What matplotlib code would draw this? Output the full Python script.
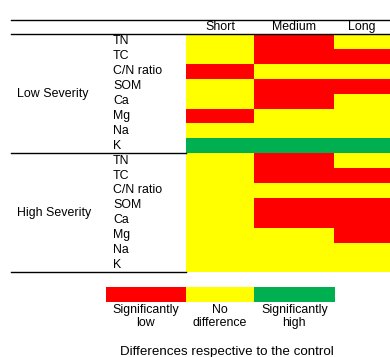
import numpy as np
import matplotlib
matplotlib.use("Agg")
import matplotlib.pyplot as plt
from matplotlib.colors import ListedColormap, BoundaryNorm

plt.rcParams["font.family"] = ["Liberation Sans", "DejaVu Sans"]

# -1 = significantly low, 0 = no difference, 1 = significantly high
PERIODS = ["Short", "Medium", "Long"]
VARIABLES = ["TN", "TC", "C/N ratio", "SOM", "Ca", "Mg", "Na", "K"]
GROUPS = ["Low Severity", "High Severity"]
LOW = [[0, -1, 0],
       [0, -1, -1],
       [-1, 0, 0],
       [0, -1, -1],
       [0, -1, 0],
       [-1, 0, 0],
       [0, 0, 0],
       [1, 1, 1]]
HIGH = [[0, -1, 0],
        [0, -1, -1],
        [0, 0, 0],
        [0, -1, -1],
        [0, -1, -1],
        [0, 0, -1],
        [0, 0, 0],
        [0, 0, 0]]
LEGEND_LABELS = ["Significantly\nlow", "No\ndifference", "Significantly\nhigh"]
LEGEND_VALUES = [-1, 0, 1]
FOOTER = "Differences respective to the control"

COLORS = ["#FF0000", "#FFFF00", "#00B050"]
cmap = ListedColormap(COLORS)
norm = BoundaryNorm([-1.5, -0.5, 0.5, 1.5], cmap.N)

W, H = 390, 357
fig = plt.figure(figsize=(W / 100, H / 100), dpi=100)
ax = fig.add_axes([0, 0, 1, 1])
ax.set_xlim(0, W)
ax.set_ylim(H, 0)
ax.axis("off")

# layout (pixels)
col_w = np.array([68, 80, 56])
x0, y_top, y_head = 186, 19.5, 34
row_h = 14.9
xe = x0 + np.concatenate([[0], np.cumsum(col_w)])
grid = np.array(LOW + HIGH)
ye = y_head + row_h * np.arange(len(grid) + 1)
ax.pcolormesh(xe, ye, grid, cmap=cmap, norm=norm, shading="flat")

fs = 8.9
for i, p in enumerate(PERIODS):
    ax.text((xe[i] + xe[i + 1]) / 2, 27.3, p, ha="center", va="center", fontsize=fs)

n = len(VARIABLES)
for g, name in enumerate(GROUPS):
    top = y_head + g * n * row_h
    ax.text(17, top + n * row_h / 2, name, ha="left", va="center", fontsize=fs)
    for r, v in enumerate(VARIABLES):
        ax.text(113, top + (r + 0.5) * row_h, v, ha="left", va="center", fontsize=fs)

lw = 1.0
ax.plot([11, W], [y_top, y_top], color="black", lw=lw)
ax.plot([11, W], [y_head, y_head], color="black", lw=lw)
ax.plot([11, x0], [ye[n], ye[n]], color="black", lw=lw)
ax.plot([11, x0], [ye[-1], ye[-1]], color="black", lw=lw)

# legend bar
leg_xe = np.array([105.7, 186, 254, 334.7])
ax.pcolormesh(leg_xe, [286.7, 301.7], [LEGEND_VALUES], cmap=cmap, norm=norm, shading="flat")
for i, lab in enumerate(LEGEND_LABELS):
    ax.text((leg_xe[i] + leg_xe[i + 1]) / 2, 316.5, lab, ha="center", va="center",
            fontsize=fs, linespacing=1.05)

ax.text(227, 352, FOOTER, ha="center", va="center", fontsize=9.6)

fig.savefig("out.png", dpi=100)
